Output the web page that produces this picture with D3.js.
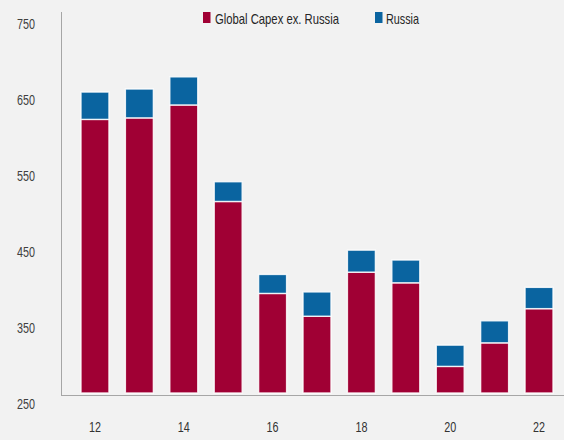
<!DOCTYPE html>
<html>
<head>
<meta charset="utf-8">
<script src="https://cdn.jsdelivr.net/npm/d3@7"></script>
<style>
  html, body { margin: 0; padding: 0; background: #f2f2f2; }
  svg { display: block; }
  .tick text { font-family: "Liberation Sans Narrow", "Liberation Sans", sans-serif; }
</style>
</head>
<body>
<svg id="chart" width="564" height="440"></svg>
<script>
// Upstream capex, stacked: global spend excluding Russia plus Russia on top
const years = ["12", "13", "14", "15", "16", "17", "18", "19", "20", "21", "22"];
const capexExRussia = [610, 612, 629, 502, 381, 351, 409, 395, 285, 316, 361];
const russia = [36, 38, 37, 26, 25, 32, 29, 30, 28, 29, 28];
const xTickLabels = ["12", "14", "16", "18", "20", "22"];
const yTickValues = [250, 350, 450, 550, 650, 750];
const seriesNames = ["Global Capex ex. Russia", "Russia"];

const colors = { ex: "#a00034", ru: "#0a64a0" };
const W = 564, H = 440;
const yMin = 250;
const svg = d3.select("#chart");

svg.append("rect").attr("width", W).attr("height", H).attr("fill", "#f2f2f2");

const x = d3.scaleBand()
  .domain(years)
  .range([61, 573])
  .paddingInner(0.37)
  .paddingOuter(0.45);

const y = d3.scaleLinear()
  .domain([yMin, 750])
  .range([393, 13]);

// Stack the two series; the lower segment starts at the axis minimum
const rows = years.map((yr, i) => ({ year: yr, ex: capexExRussia[i], ru: russia[i] }));
const stack = d3.stack().keys(["ex", "ru"])(rows);

const layers = svg.append("g").selectAll("g")
  .data(stack)
  .join("g")
  .attr("fill", d => colors[d.key]);

layers.selectAll("rect")
  .data(d => d)
  .join("rect")
  .attr("x", d => x(d.data.year))
  .attr("width", x.bandwidth())
  .attr("y", d => y(d[1]))
  .attr("height", d => y(Math.max(d[0], yMin)) - y(d[1]))
  .attr("stroke", "#ffffff")
  .attr("stroke-opacity", 0.85)
  .attr("stroke-width", 1.4);

// Axis lines
svg.append("line")
  .attr("x1", 61.5).attr("x2", 61.5)
  .attr("y1", 12).attr("y2", 395.5)
  .attr("stroke", "#a6a6a6").attr("stroke-width", 1);
svg.append("line")
  .attr("x1", 61).attr("x2", W)
  .attr("y1", 395.5).attr("y2", 395.5)
  .attr("stroke", "#a6a6a6").attr("stroke-width", 1);

// Y axis labels
const yAxis = svg.append("g")
  .attr("transform", "translate(61,0)")
  .call(d3.axisLeft(y).tickValues(yTickValues).tickSize(0).tickPadding(26));
yAxis.select(".domain").remove();
yAxis.selectAll(".tick text")
  .attr("font-size", 14)
  .attr("fill", "#404040")
  .attr("textLength", 18)
  .attr("lengthAdjust", "spacingAndGlyphs")
  .attr("transform", "translate(0,11)");

// X axis labels
const xAxis = svg.append("g")
  .attr("transform", "translate(0,395)")
  .call(d3.axisBottom(x).tickValues(xTickLabels).tickSize(0).tickPadding(27));
xAxis.select(".domain").remove();
xAxis.selectAll(".tick text")
  .attr("font-size", 14)
  .attr("fill", "#333333")
  .attr("textLength", 12)
  .attr("lengthAdjust", "spacingAndGlyphs");

// Legend
const legend = svg.append("g");
const legendItems = [
  { name: seriesNames[0], color: colors.ex, sx: 203, tx: 215, len: 124 },
  { name: seriesNames[1], color: colors.ru, sx: 375, tx: 386, len: 33 }
];
legendItems.forEach(it => {
  legend.append("rect")
    .attr("x", it.sx).attr("y", 12)
    .attr("width", 7.5).attr("height", 11)
    .attr("fill", it.color);
  legend.append("text")
    .attr("x", it.tx).attr("y", 23.5)
    .attr("font-family", "'Liberation Sans Narrow', 'Liberation Sans', sans-serif")
    .attr("font-size", 14.5)
    .attr("fill", "#262626")
    .attr("textLength", it.len)
    .attr("lengthAdjust", "spacingAndGlyphs")
    .text(it.name);
});
</script>
</body>
</html>
